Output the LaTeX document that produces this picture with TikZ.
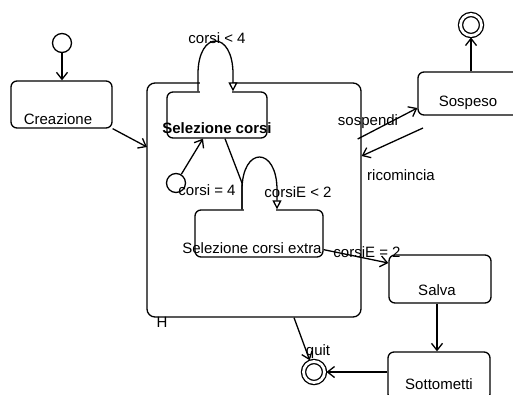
\documentclass[tikz,border=0pt]{standalone}
\usepackage{fontspec}
\setmainfont{Liberation Sans}
\usetikzlibrary{arrows.meta}

\begin{document}
\begin{tikzpicture}[x=1pt, y=-1pt, line width=1.3pt,
  font=\fontsize{15}{18}\selectfont,
  state/.style={draw, rounded corners=6pt, inner sep=0pt},
  txt/.style={inner sep=0pt},
  tr/.style={-{Straight Barb[length=7pt,width=11pt]}},
  selftr/.style={-{Triangle[open,fill=white,length=9pt,width=9pt]}},
  ini/.style={draw, circle, minimum size=19pt, inner sep=0pt},
  fin/.style={draw, circle, double, double distance=2.8pt, minimum size=21pt, inner sep=0pt, outer sep=2pt}]
  \useasboundingbox (0,0) rectangle (513,394);

  % States
  \node[state, minimum width=101pt, minimum height=47pt] (crea) at (61.5,104.5) {};
  \node[state, rounded corners=8pt, minimum width=214pt, minimum height=234pt] (comp) at (254,200) {};
  \node[state, minimum width=100pt, minimum height=46pt] (selc) at (217,115) {};
  \node[state, minimum width=128pt, minimum height=47pt] (extra) at (259,233.5) {};
  \node[state, minimum width=102pt, minimum height=48pt] (salva) at (440,279) {};
  \node[state, minimum width=102pt, minimum height=48pt] (sott) at (439,376) {};
  \node[state, minimum width=102pt, minimum height=43pt] (sosp) at (469,93.5) {};

  \node[txt] (creat) at (58,119) {Creazione};
  \node[txt] (selct) at (217,128) {\bfseries Selezione corsi};
  \node[txt] (extrat) at (252,248) {Selezione corsi extra};
  \node[txt] (salvat) at (437,290) {Salva};
  \node[txt] (sottt) at (439,384) {Sottometti};
  \node[txt] (sospt) at (468,103) {Sospeso};
  \node[txt] (hist) at (162,322) {H};

  % Initial and final states
  \node[ini] (init1) at (62,43) {};
  \node[ini] (init2) at (176,183) {};
  \node[fin] (fin1) at (471,25) {};
  \node[fin] (fin2) at (314,372) {};

  % Self loops
  \coordinate (la) at (198,74);
  \coordinate (lb) at (233,74);
  \coordinate (ma) at (242,190);
  \coordinate (mb) at (277,190);
  \coordinate (mk) at (242,183);
  \fill[white] (199.5,77) rectangle (231.5,97);
  \fill[white] (243.5,205) rectangle (275.5,215);
  \draw[selftr] (selc.north -| la) -- (la) .. controls (198,30) and (233,30) .. (lb) -- (selc.north -| lb);
  \draw[selftr] (extra.north -| ma) -- (ma) .. controls (242,146) and (277,146) .. (mb) -- (extra.north -| mb);

  % Transitions
  \coordinate (cin) at (147,147);
  \coordinate (ricS) at (423,128);
  \draw[tr] (init1) -- (init1 |- crea.north);
  \draw[tr] (crea.south east) -- (cin);
  \draw[tr] (init2) -- ([xshift=-14pt]selc.south);
  \draw ([xshift=8pt]selc.south) -- (mk) -- (extra.north -| mk);
  \draw[tr] ([yshift=8pt]extra.south east) -- ([yshift=16pt]salva.west);
  \draw[tr] (salva.south -| salvat) -- (salvat |- sott.north);
  \draw[tr] (fin2 -| sott.west) -- (fin2);
  \draw[tr] ([xshift=40pt]comp.south) -- (fin2);
  \draw[tr] (sosp.north -| fin1) -- (fin1);
  \draw[tr] ([xshift=-4pt,yshift=61pt]comp.east) -- ([yshift=-14.5pt]sosp.west);
  \draw[tr] (ricS) -- ([yshift=44pt]comp.east);

  % Labels
  \node[txt] (l1) at (217,38) {corsi < 4};
  \node[txt] (l2) at (207,190) {corsi = 4};
  \node[txt] (l3) at (298,192) {corsiE < 2};
  \node[txt] (l4) at (367,252) {corsiE = 2};
  \node[txt] (l5) at (368,122) {sospendi};
  \node[txt] (l6) at (401,175) {ricomincia};
  \node[txt] (l7) at (318,352) {quit};
\end{tikzpicture}
\end{document}
